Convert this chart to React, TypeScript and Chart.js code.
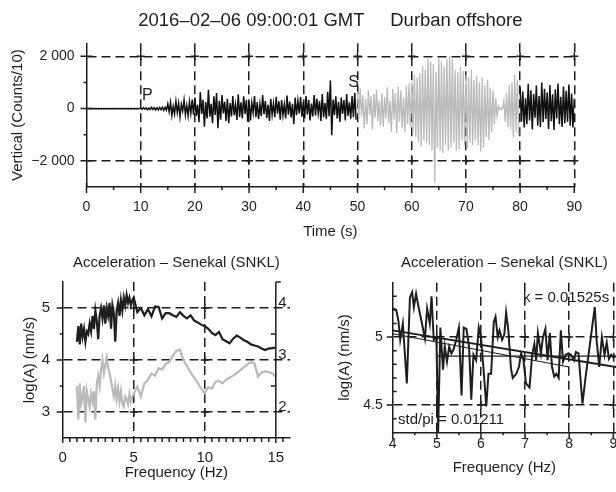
import React, { useEffect, useRef } from "react";
import { Chart, registerables } from "chart.js";

Chart.register(...registerables);

const FONT = '"Liberation Sans", Arial, Helvetica, sans-serif';
const INK = "#1e1e1e";
const LIGHT = "#bababa";
const DASH = [9, 5];
const NONE = "rgba(0,0,0,0)";

// ---------------- top panel: seismogram (counts/10), sampled every 0.25 s
const SEIS_DT = 0.25;
const seis00to10 = [0, 6, -5, 4, -6, 5, -4, 7, -6, 3, -5, 6, -7, 4, -3, 5, -6, 4, -5, 7, -5, 3, -6, 5, -4, 6, -5, 3, -7, 5, -4, 6, -5, 4, -6, 5, -3, 6, -5, 4];
const seis10to20 = [15, -25, 35, -20, 30, -40, 25, -35, 45, -30, 40, -50, 35, -55, 45, -40, 55, -65, 50, -60, 180, -120, 240, -260, 90, -200, 280, -150, 210, -310, 160, -90, 330, -240, 120, -280, 260, -180, 350, -230];
const seis20to30 = [420, -280, 150, -520, 630, -200, 340, -690, 250, -380, 720, -310, 180, -560, 470, -240, 600, -750, 300, -420, 520, -180, 260, -470, 380, -560, 210, -300, 480, -250, 150, -430, 550, -320, 240, -380, 470, -200, 330, -500];
const seis30to40 = [300, -450, 220, -160, 480, -330, 250, -400, 170, -280, 520, -210, 300, -360, 150, -470, 380, -240, 200, -330, 450, -190, 280, -420, 330, -260, 160, -380, 500, -230, 270, -340, 180, -600, 420, -250, 300, -180, 440, -310];
const seis40to50 = [260, -380, 480, -220, 340, -450, 190, -300, 520, -260, 380, -180, 290, -470, 560, -330, 210, -400, 640, -290, 1080, -1020, 350, -240, 470, -380, 260, -510, 420, -200, 330, -450, 560, -280, 240, -390, 480, -330, 600, -420];
const seis50to60 = [650, -420, 780, -300, 520, -760, 380, -600, 700, -250, 480, -800, 560, -350, 720, -480, 300, -650, 590, -700, 450, -380, 820, -560, 300, -880, 760, -420, 600, -930, 850, -500, 700, -760, 420, -900, 880, -600, 960, -700];
const seis60to70 = [1000, -900, 1300, -1100, 1200, -1300, 1350, -1450, 1650, -1200, 1500, -1300, 1970, -1400, 1800, -1600, 1700, -2840, 1400, -1500, 1950, -1600, 1800, -1700, 1600, -1400, 1900, -1600, 2000, -1500, 1900, -1300, 1500, -1600, 1400, -1550, 1600, -1200, 1450, -1400];
const seis70to80 = [1300, -1500, 1200, -1300, 1500, -1400, 1100, -1200, 1250, -1400, 1000, -1650, 1200, -1500, 900, -1100, 1100, -1200, 800, -900, 700, -600, 400, -300, 100, -40, 20, -10, 300, -500, 600, -700, 900, -800, 1000, -1100, 1300, -900, 1100, -1000];
const seis80to90 = [820, -500, 650, -720, 400, -600, 950, -450, 700, -800, 560, -350, 880, -650, 480, -700, 1000, -520, 760, -400, 620, -780, 900, -480, 550, -820, 740, -380, 960, -600, 450, -700, 850, -560, 680, -500, 920, -650, 580, -720, 400];

const timeTicks = [0, 10, 20, 30, 40, 50, 60, 70, 80, 90];
const timeMinor = [5, 15, 25, 35, 45, 55, 65, 75, 85];
const timeGrid = [10, 20, 30, 40, 50, 60, 70, 80, 90];
const ampTicks = [-2000, 0, 2000];
const ampTickLabels = ["\u22122 000", "0", "2 000"];
const ampMinor = [-1000, 1000];
const ampGrid = [-2000, 2000];

// ---------------- bottom-left panel: spectra
const specFreq = [1.0, 1.1, 1.2, 1.3, 1.4, 1.5, 1.6, 1.7, 1.8, 1.9, 2.0, 2.1, 2.2, 2.3, 2.4, 2.5, 2.6, 2.7, 2.8, 2.9, 3.0, 3.1, 3.2, 3.3, 3.4, 3.5, 3.6, 3.7, 3.8, 3.9, 4.0, 4.1, 4.2, 4.3, 4.4, 4.5, 4.6, 4.7, 4.8, 4.9, 5.0, 5.25, 5.5, 5.75, 6.0, 6.25, 6.5, 6.75, 7.0, 7.25, 7.5, 7.75, 8.0, 8.25, 8.5, 8.75, 9.0, 9.25, 9.5, 9.75, 10.0, 10.25, 10.5, 10.75, 11.0, 11.25, 11.5, 11.75, 12.0, 12.25, 12.5, 12.75, 13.0, 13.25, 13.5, 13.75, 14.0, 14.25, 14.5, 14.75, 15.0];
const specSignal = [4.35, 4.65, 4.3, 4.7, 4.45, 4.6, 4.35, 4.55, 4.5, 4.7, 4.55, 4.85, 4.6, 4.95, 4.75, 4.4, 4.85, 5.0, 4.8, 5.05, 4.7, 5.0, 4.85, 5.1, 4.6, 5.05, 4.9, 4.35, 4.95, 5.1, 4.85, 5.15, 4.95, 5.2, 5.05, 5.25, 5.1, 5.2, 5.05, 5.15, 5.2, 4.92, 5.0, 4.86, 4.98, 4.84, 5.03, 5.02, 4.8, 4.9, 4.9, 4.86, 4.83, 4.92, 4.85, 4.8, 4.86, 4.76, 4.72, 4.68, 4.65, 4.6, 4.52, 4.48, 4.54, 4.4, 4.36, 4.32, 4.41, 4.47, 4.43, 4.38, 4.35, 4.3, 4.28, 4.26, 4.22, 4.19, 4.22, 4.23, 4.24];
const specNoise = [3.5, 2.85, 3.55, 3.15, 3.3, 3.5, 2.8, 3.4, 3.25, 3.1, 3.35, 3.2, 3.4, 2.85, 3.55, 3.7, 3.5, 3.8, 4.0, 3.75, 3.9, 4.05, 3.85, 3.75, 3.6, 3.45, 3.3, 3.5, 3.25, 3.45, 3.2, 3.4, 3.15, 3.1, 3.3, 3.25, 3.15, 3.35, 3.2, 3.3, 3.35, 3.49, 3.3, 3.55, 3.62, 3.74, 3.7, 3.84, 3.82, 3.92, 3.96, 4.08, 4.18, 4.2, 4.0, 3.88, 3.76, 3.66, 3.56, 3.45, 3.36, 3.48, 3.45, 3.58, 3.6, 3.55, 3.62, 3.66, 3.7, 3.75, 3.8, 3.86, 3.92, 3.96, 3.93, 3.68, 3.76, 3.78, 3.77, 3.74, 3.68];
const specTicksX = [0, 5, 10, 15];
const specMinorX = [0.5, 1, 1.5, 2, 2.5, 3, 3.5, 4, 4.5, 5.5, 6, 6.5, 7, 7.5, 8, 8.5, 9, 9.5, 10.5, 11, 11.5, 12, 12.5, 13, 13.5, 14, 14.5, 15.5];
const specGridX = [5, 10];
const specTicksY = [3, 4, 5];
const specMinorY = [3.5, 4.5];
const specRightTicks = [2, 3, 4];
const specRightMinorIn = [2.5, 3.5];
const specRightMinorOut = [4.5];

// ---------------- bottom-right panel: zoomed spectrum with fits
const zoomFreq = [4.00, 4.08, 4.13, 4.17, 4.23, 4.32, 4.39, 4.44, 4.48, 4.53, 4.58, 4.65, 4.73, 4.78, 4.84, 4.88, 4.93, 4.99, 5.03, 5.08, 5.14, 5.18, 5.23, 5.28, 5.33, 5.38, 5.44, 5.50, 5.56, 5.61, 5.67, 5.73, 5.78, 5.83, 5.89, 5.95, 6.00, 6.06, 6.12, 6.17, 6.23, 6.29, 6.33, 6.38, 6.42, 6.48, 6.53, 6.57, 6.62, 6.68, 6.72, 6.80, 6.86, 6.91, 6.96, 7.02, 7.10, 7.16, 7.21, 7.25, 7.29, 7.36, 7.40, 7.46, 7.51, 7.56, 7.61, 7.66, 7.71, 7.76, 7.81, 7.86, 7.92, 7.98, 8.04, 8.11, 8.15, 8.21, 8.30, 8.38, 8.45, 8.53, 8.58, 8.62, 8.68, 8.74, 8.80, 8.85, 8.90, 8.95, 9.00, 9.06];
const zoomAmp = [5.21, 5.20, 5.12, 4.98, 5.10, 4.66, 5.29, 5.33, 5.22, 5.32, 5.23, 5.12, 4.99, 5.21, 5.10, 5.30, 4.98, 5.00, 4.30, 5.07, 4.76, 4.93, 4.82, 4.93, 4.88, 4.91, 4.98, 5.07, 4.57, 5.07, 5.06, 4.93, 4.54, 4.87, 4.83, 5.07, 5.00, 4.76, 4.49, 4.73, 4.73, 5.11, 5.15, 5.00, 5.05, 4.98, 5.02, 5.18, 5.05, 4.77, 4.70, 4.73, 4.78, 4.88, 4.84, 4.66, 4.63, 4.87, 4.95, 4.83, 5.03, 4.88, 4.99, 5.06, 4.83, 5.03, 4.78, 4.71, 4.73, 4.70, 5.05, 4.82, 4.87, 4.88, 4.87, 4.83, 4.89, 4.88, 4.51, 4.73, 4.90, 5.10, 5.22, 4.98, 4.78, 5.00, 4.87, 4.96, 4.84, 4.87, 4.85, 4.86];
const fitAFreq = [4, 9.06];
const fitAAmp = [5.05, 4.78];
const fitBFreq = [4, 8];
const fitBAmp = [5.025, 4.78];
const fitCFreq = [5.02, 9.06];
const fitCAmp = [4.86, 4.86];
const zoomTicksX = [4, 5, 6, 7, 8, 9];
const zoomMinorX = [4.5, 5.5, 6.5, 7.5, 8.5];
const zoomGridX = [5, 6, 7, 8, 9];
const zoomTicksY = [4.5, 5];
const zoomTickLabelsY = ["4.5", "5"];
const zoomMinorY = [4.4, 4.6, 4.7, 4.8, 4.9, 5.1, 5.2, 5.3];
const zoomGridY = [4.5, 5];

// ---------------- helpers
const pts = (xs: number[], ys: number[]) => xs.map((x, i) => ({ x, y: ys[i] }));
const seisPts = (vals: number[], t0: number) => vals.map((y, i) => ({ x: t0 + i * SEIS_DT, y }));
const font = (size: number) => ({ family: FONT, size, weight: "normal" as const });
const gridColor = (vals: number[]) => (c: any) =>
  c.tick && vals.some((v) => Math.abs(v - c.tick.value) < 1e-9) ? INK : NONE;
const setTicks = (vals: number[]) => (s: any) => {
  s.ticks = vals.map((v) => ({ value: v }));
};

type TickSet = { scale: string; axis: "x" | "y"; values: number[]; out: number; inn: number; atX?: number; dir?: number };
type Txt = { text: string; x: number; y: number; yScale?: string; size: number; dx?: number; dy?: number; align?: CanvasTextAlign; baseline?: CanvasTextBaseline; under?: boolean };
type Decor = { ticks: TickSet[]; crossX: number[]; crossY: number[]; texts: Txt[]; vlines?: number[] };

function decorPlugin(d: Decor) {
  const drawTexts = (chart: any, under: boolean) => {
    const { ctx, scales } = chart;
    ctx.save();
    ctx.fillStyle = INK;
    for (const t of d.texts) {
      if (!!t.under !== under) continue;
      const px = scales.x.getPixelForValue(t.x) + (t.dx ?? 0);
      const py = scales[t.yScale ?? "y"].getPixelForValue(t.y) + (t.dy ?? 0);
      ctx.font = `${t.size}px ${FONT}`;
      ctx.textAlign = t.align ?? "left";
      ctx.textBaseline = t.baseline ?? "middle";
      ctx.fillText(t.text, px, py);
    }
    ctx.restore();
  };
  return {
    id: "decor",
    beforeDraw(chart: any) {
      drawTexts(chart, true);
    },
    afterDatasetsDraw(chart: any) {
      const { ctx, chartArea: a, scales } = chart;
      ctx.save();
      ctx.strokeStyle = INK;
      ctx.lineWidth = 1.5;
      ctx.setLineDash([]);
      for (const v of d.vlines ?? []) {
        const px = scales.x.getPixelForValue(v);
        ctx.beginPath();
        ctx.moveTo(px, a.top);
        ctx.lineTo(px, a.bottom);
        ctx.stroke();
      }
      for (const t of d.ticks) {
        const s = scales[t.scale];
        ctx.beginPath();
        for (const v of t.values) {
          const p = s.getPixelForValue(v);
          if (t.axis === "x") {
            ctx.moveTo(p, a.bottom - t.inn);
            ctx.lineTo(p, a.bottom + t.out);
          } else {
            const x0 = t.atX !== undefined ? scales.x.getPixelForValue(t.atX) : a.left;
            const dir = t.dir ?? -1;
            ctx.moveTo(x0 - dir * t.inn, p);
            ctx.lineTo(x0 + dir * t.out, p);
          }
        }
        ctx.stroke();
      }
      const arm = 4;
      ctx.beginPath();
      for (const gx of d.crossX) {
        for (const gy of d.crossY) {
          const px = scales.x.getPixelForValue(gx);
          const py = scales.y.getPixelForValue(gy);
          ctx.moveTo(px - arm, py);
          ctx.lineTo(px + arm, py);
          ctx.moveTo(px, py - arm);
          ctx.lineTo(px, py + arm);
        }
      }
      ctx.stroke();
      ctx.restore();
      drawTexts(chart, false);
    },
  };
}

const baseOptions = {
  responsive: false,
  animation: false,
  devicePixelRatio: 1,
  events: [],
};

// ---------------- chart configs
function topConfig(): any {
  const blackA = [
    ...seisPts(seis00to10, 0),
    ...seisPts(seis10to20, 10),
    ...seisPts(seis20to30, 20),
    ...seisPts(seis30to40, 30),
    ...seisPts(seis40to50, 40),
  ];
  const gray = [...seisPts(seis50to60, 50), ...seisPts(seis60to70, 60), ...seisPts(seis70to80, 70)];
  const blackB = seisPts(seis80to90, 80);
  const line = { pointRadius: 0, tension: 0, fill: false };
  return {
    type: "line",
    data: {
      datasets: [
        { ...line, data: blackA, borderColor: "#111111", borderWidth: 1.5 },
        { ...line, data: gray, borderColor: LIGHT, borderWidth: 1.3 },
        { ...line, data: blackB, borderColor: "#111111", borderWidth: 1.5 },
      ],
    },
    options: {
      ...baseOptions,
      layout: { padding: { left: 0, right: 41.7, top: 0, bottom: 0 } },
      plugins: {
        legend: { display: false },
        tooltip: { enabled: false },
        title: {
          display: true,
          text: "2016\u201302\u201306 09:00:01 GMT     Durban offshore",
          fullSize: false,
          color: INK,
          font: font(18.5),
          padding: { top: 9.7, bottom: 11.4 },
        },
      },
      scales: {
        x: {
          type: "linear",
          min: 0,
          max: 90,
          afterBuildTicks: setTicks(timeTicks),
          afterFit: (s: any) => {
            s.height = 58;
            s.paddingLeft = 0;
            s.paddingRight = 0;
          },
          ticks: { autoSkip: false, maxRotation: 0, padding: 12, color: INK, font: font(14) },
          grid: { drawTicks: false, lineWidth: 1.5, color: gridColor(timeGrid) },
          border: { display: true, color: INK, width: 1.5, dash: DASH },
          title: { display: true, text: "Time (s)", color: INK, font: font(15), padding: { top: 0, bottom: 4 } },
        },
        y: {
          type: "linear",
          min: -3000,
          max: 2500,
          afterBuildTicks: setTicks(ampTicks),
          afterFit: (s: any) => {
            s.width = 86.5;
            s.paddingTop = 0;
            s.paddingBottom = 0;
          },
          ticks: { autoSkip: false, padding: 12, color: INK, font: font(14), callback: (_v: any, i: number) => ampTickLabels[i] },
          grid: { drawTicks: false, lineWidth: 1.5, color: gridColor(ampGrid) },
          border: { display: true, color: INK, width: 1.5, dash: DASH },
          title: { display: true, text: "Vertical (Counts/10)", color: INK, font: font(15), padding: { top: 8.7, bottom: 0 } },
        },
      },
    },
    plugins: [
      decorPlugin({
        ticks: [
          { scale: "x", axis: "x", values: timeTicks, out: 6, inn: 4 },
          { scale: "x", axis: "x", values: timeMinor, out: 3, inn: 0 },
          { scale: "y", axis: "y", values: ampTicks, out: 6, inn: 6 },
          { scale: "y", axis: "y", values: ampMinor, out: 3, inn: 0 },
        ],
        crossX: timeGrid,
        crossY: ampGrid,
        texts: [
          { text: "P", x: 10.25, y: 480, size: 16 },
          { text: "S", x: 48.3, y: 980, size: 16 },
        ],
      }),
    ],
  };
}

function leftConfig(): any {
  const line = { pointRadius: 0, tension: 0, borderWidth: 2.2, fill: false };
  return {
    type: "line",
    data: {
      datasets: [
        { ...line, data: pts(specFreq, specNoise), borderColor: LIGHT },
        { ...line, data: pts(specFreq, specSignal), borderColor: INK },
      ],
    },
    options: {
      ...baseOptions,
      layout: { padding: { left: 0, right: 20, top: 0, bottom: 0 } },
      plugins: {
        legend: { display: false },
        tooltip: { enabled: false },
        title: {
          display: true,
          text: "Acceleration \u2013 Senekal (SNKL)",
          fullSize: false,
          color: INK,
          font: font(15),
          padding: { top: 9, bottom: 10 },
        },
      },
      scales: {
        x: {
          type: "linear",
          min: 0,
          max: 16,
          afterBuildTicks: setTicks(specTicksX),
          afterFit: (s: any) => {
            s.height = 54;
            s.paddingLeft = 0;
            s.paddingRight = 0;
          },
          ticks: { autoSkip: false, maxRotation: 0, padding: 11, color: INK, font: font(15) },
          grid: { drawTicks: false, lineWidth: 1.5, color: gridColor(specGridX) },
          border: { display: true, color: INK, width: 1.5, dash: DASH },
          title: { display: true, text: "Frequency (Hz)", color: INK, font: font(15), padding: { top: 0, bottom: 10 } },
        },
        y: {
          type: "linear",
          min: 2.5,
          max: 5.5,
          afterBuildTicks: setTicks(specTicksY),
          afterFit: (s: any) => {
            s.width = 62.7;
            s.paddingTop = 0;
            s.paddingBottom = 0;
          },
          ticks: { autoSkip: false, padding: 12.7, color: INK, font: font(15) },
          grid: { drawTicks: false, lineWidth: 1.5, color: gridColor(specTicksY) },
          border: { display: true, color: INK, width: 1.5, dash: DASH },
          title: { display: true, text: "log(A) (nm/s)", color: INK, font: font(15), padding: { top: 21, bottom: 0 } },
        },
        y2: { type: "linear", display: false, min: 1.5, max: 4.5 },
      },
    },
    plugins: [
      decorPlugin({
        vlines: [15],
        ticks: [
          { scale: "x", axis: "x", values: specTicksX, out: 5, inn: 0 },
          { scale: "x", axis: "x", values: specMinorX, out: 4, inn: 0 },
          { scale: "y", axis: "y", values: specTicksY, out: 6, inn: 0 },
          { scale: "y", axis: "y", values: specMinorY, out: 3, inn: 0 },
          { scale: "y2", axis: "y", values: specRightMinorIn, out: 0, inn: 5, atX: 15, dir: 1 },
          { scale: "y2", axis: "y", values: specRightMinorOut, out: 5, inn: 0, atX: 15, dir: 1 },
        ],
        crossX: specGridX,
        crossY: specTicksY,
        texts: specRightTicks.map((v) => ({
          text: String(v),
          x: 15,
          y: v,
          yScale: "y2",
          size: 15,
          dx: 2.5,
          dy: -1.5,
          baseline: "alphabetic" as CanvasTextBaseline,
        })),
      }),
    ],
  };
}

function rightConfig(): any {
  const line = { pointRadius: 0, tension: 0, fill: false };
  return {
    type: "line",
    data: {
      datasets: [
        { ...line, data: pts(zoomFreq, zoomAmp), borderColor: INK, borderWidth: 2 },
        { ...line, data: pts(fitAFreq, fitAAmp), borderColor: INK, borderWidth: 1.8 },
        { ...line, data: pts(fitBFreq, fitBAmp), borderColor: INK, borderWidth: 1.1 },
        { ...line, data: pts(fitCFreq, fitCAmp), borderColor: INK, borderWidth: 1.4 },
      ],
    },
    options: {
      ...baseOptions,
      layout: { padding: { left: 0, right: 0, top: 0, bottom: 0 } },
      plugins: {
        legend: { display: false },
        tooltip: { enabled: false },
        title: {
          display: true,
          text: "Acceleration \u2013 Senekal (SNKL)",
          fullSize: false,
          color: INK,
          font: font(15),
          padding: { top: 8.7, bottom: 11 },
        },
      },
      scales: {
        x: {
          type: "linear",
          min: 4,
          max: 9.06,
          afterBuildTicks: setTicks(zoomTicksX),
          afterFit: (s: any) => {
            s.height = 59.7;
            s.paddingLeft = 0;
            s.paddingRight = 0;
          },
          ticks: { autoSkip: false, maxRotation: 0, padding: 3.3, color: INK, font: font(14) },
          grid: { drawTicks: false, lineWidth: 1.5, color: gridColor(zoomGridX) },
          border: { display: true, color: INK, width: 1.5, dash: DASH },
          title: { display: true, text: "Frequency (Hz)", color: INK, font: font(15), padding: { top: 0, bottom: 15 } },
        },
        y: {
          type: "linear",
          min: 4.3,
          max: 5.4,
          afterBuildTicks: setTicks(zoomTicksY),
          afterFit: (s: any) => {
            s.width = 82.7;
            s.paddingTop = 0;
            s.paddingBottom = 0;
          },
          ticks: { autoSkip: false, padding: 10, color: INK, font: font(14), callback: (_v: any, i: number) => zoomTickLabelsY[i] },
          grid: { drawTicks: false, lineWidth: 1.5, color: gridColor(zoomGridY) },
          border: { display: true, color: INK, width: 1.5, dash: DASH },
          title: { display: true, text: "log(A) (nm/s)", color: INK, font: font(15), padding: { top: 25.7, bottom: 0 } },
        },
      },
    },
    plugins: [
      decorPlugin({
        ticks: [
          { scale: "x", axis: "x", values: zoomTicksX, out: 7, inn: 0 },
          { scale: "x", axis: "x", values: zoomMinorX, out: 3, inn: 0 },
          { scale: "y", axis: "y", values: zoomTicksY, out: 6, inn: 0 },
          { scale: "y", axis: "y", values: zoomMinorY, out: 0, inn: 4 },
        ],
        crossX: zoomGridX,
        crossY: zoomGridY,
        texts: [
          { text: "k = 0.01525s", x: 6.95, y: 5.29, size: 15, under: true },
          { text: "std/pi = 0.01211", x: 4.12, y: 4.39, size: 15, under: true },
        ],
      }),
    ],
  };
}

function Panel(props: { left: number; top: number; width: number; height: number; build: () => any }) {
  const ref = useRef<HTMLCanvasElement>(null);
  useEffect(() => {
    const chart = new Chart(ref.current as HTMLCanvasElement, props.build());
    return () => chart.destroy();
  }, []);
  return (
    <canvas
      ref={ref}
      width={props.width}
      height={props.height}
      style={{ position: "absolute", left: props.left, top: props.top, width: props.width, height: props.height }}
    />
  );
}

export default function App() {
  return (
    <div style={{ position: "absolute", left: 0, top: 0, width: 616, height: 492, background: "#ffffff", overflow: "hidden" }}>
      <Panel left={0} top={0} width={616} height={245} build={topConfig} />
      <Panel left={0} top={245} width={310} height={247} build={leftConfig} />
      <Panel left={310} top={245} width={306} height={247} build={rightConfig} />
    </div>
  );
}
